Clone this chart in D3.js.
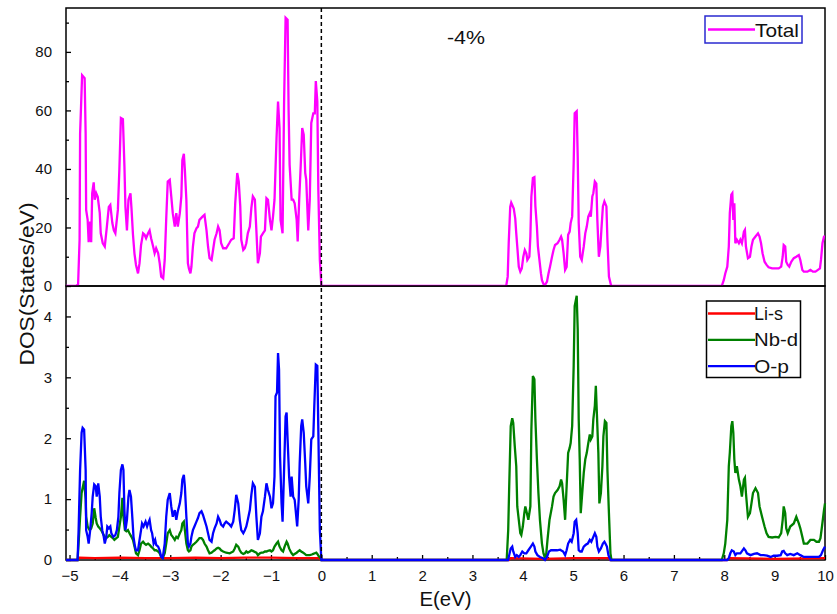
<!DOCTYPE html>
<html>
<head>
<meta charset="utf-8">
<script src="https://cdn.jsdelivr.net/npm/d3@7"></script>
<style>
  html, body { margin: 0; padding: 0; background: #fff; }
  svg { display: block; font-family: Arial, "Liberation Sans", sans-serif; }
</style>
</head>
<body>
<svg id="chart" width="837" height="614"></svg>
<script>
// Projected densities of states, [energy (eV), DOS (states/eV)]
const totalDOS = [
  [-5.07,0],[-4.87,0],[-4.83,0.5],[-4.80,16],[-4.79,52],[-4.75,72],[-4.70,71],[-4.68,52],[-4.67,26],[-4.64,22.6],
  [-4.62,15],[-4.59,22],[-4.57,15],[-4.55,31.7],[-4.52,35.4],[-4.50,29.5],[-4.47,31.7],[-4.44,30.5],[-4.40,25],
  [-4.38,18],[-4.34,14.6],[-4.30,13.5],[-4.26,20],[-4.22,27],[-4.19,27.7],[-4.15,21.5],[-4.12,19],[-4.09,18],
  [-4.04,26],[-4.01,40],[-3.98,57.4],[-3.94,57],[-3.91,41],[-3.89,27],[-3.86,19],[-3.83,29.5],[-3.79,31.7],
  [-3.77,26.6],[-3.74,17.5],[-3.71,11],[-3.68,7.2],[-3.64,4.3],[-3.61,7.8],[-3.58,14],[-3.54,18],[-3.51,17.5],
  [-3.48,16.3],[-3.44,18],[-3.41,19],[-3.38,16.3],[-3.34,13.5],[-3.31,11.2],[-3.28,12.9],[-3.24,11.2],[-3.21,7.8],
  [-3.18,3.2],[-3.14,2.6],[-3.11,8.9],[-3.08,23],[-3.05,35.7],[-3.01,36.3],[-2.98,30.6],[-2.95,24.9],[-2.91,20.3],
  [-2.88,24.9],[-2.85,20.3],[-2.81,24.9],[-2.78,30.6],[-2.76,43],[-2.73,45.2],[-2.71,39.7],[-2.68,29.5],[-2.65,7.8],
  [-2.63,6],[-2.60,4.3],[-2.58,6.5],[-2.55,13.5],[-2.52,18],[-2.48,19.7],[-2.45,20.3],[-2.42,22.6],[-2.36,23.7],
  [-2.32,24.3],[-2.28,19],[-2.25,13.5],[-2.22,9.5],[-2.18,8.9],[-2.15,12.3],[-2.12,15.8],[-2.08,18],[-2.05,20.3],
  [-2.02,19],[-1.99,14.6],[-1.95,12.9],[-1.89,12.9],[-1.83,14.6],[-1.79,15.8],[-1.74,16.3],[-1.71,28.3],[-1.67,38.6],
  [-1.64,35.7],[-1.61,27.2],[-1.59,15.8],[-1.55,12.3],[-1.52,12.9],[-1.49,14.6],[-1.46,18],[-1.42,20.3],[-1.39,26.6],
  [-1.36,30.6],[-1.32,29.5],[-1.29,19],[-1.26,7.8],[-1.22,11.2],[-1.20,16.9],[-1.16,18],[-1.12,19],[-1.09,30],
  [-1.06,29.5],[-1.02,22.6],[-0.99,19],[-0.96,23.7],[-0.93,29.5],[-0.89,50.6],[-0.86,63],[-0.83,54],[-0.81,22.6],
  [-0.77,18],[-0.74,62.6],[-0.71,91.7],[-0.67,91],[-0.65,60],[-0.63,41.4],[-0.59,29.5],[-0.56,29.5],[-0.53,28.3],
  [-0.49,22.6],[-0.47,15.2],[-0.44,29.5],[-0.41,41],[-0.38,54],[-0.35,51.7],[-0.32,38.6],[-0.30,36.3],[-0.26,19],
  [-0.23,29.5],[-0.20,55.7],[-0.16,59],[-0.13,59],[-0.11,70],[-0.08,63],[-0.06,32.9],[-0.03,8.9],[0.00,0.3],[0.01,0],
  [3.67,0],[3.70,3.2],[3.72,14.6],[3.75,27],[3.77,28.5],[3.79,27.7],[3.82,26.5],[3.85,23],[3.87,18],[3.89,13.5],
  [3.92,6.6],[3.95,4.9],[3.98,6],[4.01,10],[4.04,12.3],[4.07,11.2],[4.09,8.9],[4.13,10],[4.15,16.9],[4.17,30.6],
  [4.20,36.9],[4.23,37.2],[4.25,27.2],[4.28,20.3],[4.30,13.5],[4.33,8.9],[4.36,4.3],[4.38,2],[4.41,0.7],[4.44,0.3],
  [4.48,1.5],[4.51,4.3],[4.54,6.6],[4.58,10],[4.61,12.3],[4.64,14],[4.69,14.6],[4.73,15.8],[4.76,16.9],[4.78,15.8],
  [4.81,11.2],[4.84,5.5],[4.87,6.5],[4.90,17.5],[4.93,18.6],[4.95,21.5],[4.98,23.7],[5.01,42],[5.03,59],[5.07,59.7],
  [5.09,44.3],[5.11,21.5],[5.14,10],[5.17,8.9],[5.21,13.5],[5.24,18],[5.27,20.3],[5.30,23.7],[5.33,24.9],[5.35,23.7],
  [5.38,30.6],[5.40,31.7],[5.43,35.7],[5.46,35],[5.48,22.6],[5.51,10],[5.54,13.5],[5.56,19.2],[5.59,27.2],[5.62,28.9],
  [5.66,27.2],[5.68,15.8],[5.71,3.2],[5.75,0.3],[5.77,0],
  [7.95,0],[7.99,2],[8.02,4.3],[8.06,6.6],[8.09,13.5],[8.11,24.9],[8.14,31.2],[8.16,31.7],[8.18,22.6],[8.20,28.3],
  [8.22,14.6],[8.25,15.8],[8.29,14.6],[8.32,15.8],[8.35,14.6],[8.39,18.6],[8.41,19.2],[8.43,13.5],[8.47,9.5],[8.51,10],
  [8.54,13.5],[8.57,15.8],[8.62,16.9],[8.67,18],[8.70,16.9],[8.73,14.6],[8.76,11.2],[8.80,8.3],[8.84,7.2],[8.88,6.4],
  [8.95,6],[9.02,6],[9.08,6],[9.13,6.6],[9.16,10],[9.18,14],[9.21,13.5],[9.23,8.3],[9.26,7.2],[9.29,6.6],[9.33,8.3],
  [9.38,9.5],[9.43,10],[9.48,10.6],[9.51,8.9],[9.55,5.5],[9.58,4.9],[9.65,4.9],[9.71,5.5],[9.76,4.9],[9.81,4.9],
  [9.86,5.5],[9.90,6],[9.92,8.9],[9.95,14.6],[9.98,16.9],[10.0,17]
];

const liS = [
  [-5.07,0],[-4.84,0],[-4.80,0.04],[-4.50,0.03],[-4.00,0.04],[-3.50,0.03],[-3.00,0.03],[-2.50,0.04],[-2.00,0.03],
  [-1.50,0.04],[-1.00,0.04],[-0.50,0.03],[-0.05,0.03],[0.00,0],
  [3.72,0],[3.76,0.03],[4.40,0.02],[5.00,0.03],[5.70,0.03],[5.74,0],
  [8.05,0],[8.10,0.03],[9.00,0.02],[10.0,0.03]
];

const nbD = [
  [-5.07,0],[-4.84,0],[-4.82,0.27],[-4.79,0.71],[-4.76,1.1],[-4.71,1.3],[-4.68,1.0],[-4.67,0.71],[-4.64,0.55],
  [-4.60,0.49],[-4.57,0.52],[-4.54,0.6],[-4.51,0.85],[-4.48,0.69],[-4.46,0.6],[-4.43,0.55],[-4.40,0.52],[-4.37,0.49],
  [-4.34,0.44],[-4.30,0.38],[-4.27,0.36],[-4.24,0.38],[-4.21,0.41],[-4.17,0.38],[-4.14,0.36],[-4.11,0.33],[-4.07,0.36],
  [-4.04,0.38],[-4.01,0.55],[-3.98,0.71],[-3.95,1.02],[-3.93,0.71],[-3.90,0.49],[-3.87,0.47],[-3.84,0.49],[-3.81,0.44],
  [-3.77,0.38],[-3.74,0.33],[-3.71,0.22],[-3.68,0.11],[-3.64,0.08],[-3.61,0.16],[-3.58,0.27],[-3.54,0.3],[-3.51,0.27],
  [-3.48,0.25],[-3.44,0.27],[-3.41,0.25],[-3.38,0.22],[-3.34,0.19],[-3.31,0.16],[-3.28,0.16],[-3.24,0.14],[-3.21,0.11],
  [-3.18,0.05],[-3.15,0.03],[-3.11,0.11],[-3.08,0.27],[-3.05,0.44],[-3.01,0.49],[-2.98,0.41],[-2.95,0.38],[-2.91,0.33],
  [-2.88,0.38],[-2.85,0.36],[-2.81,0.44],[-2.78,0.49],[-2.76,0.6],[-2.73,0.63],[-2.71,0.49],[-2.68,0.27],[-2.65,0.16],
  [-2.63,0.14],[-2.60,0.16],[-2.58,0.22],[-2.55,0.25],[-2.52,0.27],[-2.48,0.3],[-2.45,0.33],[-2.42,0.36],[-2.38,0.36],
  [-2.35,0.33],[-2.32,0.27],[-2.28,0.22],[-2.25,0.16],[-2.22,0.11],[-2.18,0.12],[-2.15,0.14],[-2.12,0.16],[-2.08,0.19],
  [-2.05,0.2],[-2.02,0.19],[-1.99,0.16],[-1.95,0.14],[-1.89,0.12],[-1.82,0.11],[-1.75,0.14],[-1.72,0.19],[-1.69,0.25],
  [-1.65,0.22],[-1.62,0.16],[-1.59,0.12],[-1.55,0.1],[-1.52,0.11],[-1.49,0.14],[-1.46,0.12],[-1.42,0.14],[-1.39,0.16],
  [-1.36,0.15],[-1.29,0.12],[-1.26,0.08],[-1.22,0.11],[-1.19,0.12],[-1.16,0.12],[-1.12,0.14],[-1.09,0.14],[-1.06,0.15],
  [-1.02,0.16],[-0.99,0.14],[-0.96,0.16],[-0.93,0.22],[-0.89,0.27],[-0.86,0.3],[-0.83,0.22],[-0.79,0.16],[-0.76,0.14],
  [-0.73,0.22],[-0.69,0.3],[-0.67,0.27],[-0.64,0.19],[-0.61,0.14],[-0.59,0.11],[-0.56,0.08],[-0.53,0.1],[-0.49,0.12],
  [-0.46,0.14],[-0.43,0.16],[-0.40,0.14],[-0.36,0.12],[-0.33,0.1],[-0.30,0.08],[-0.26,0.08],[-0.23,0.08],[-0.19,0.09],
  [-0.16,0.1],[-0.13,0.11],[-0.10,0.12],[-0.08,0.1],[-0.05,0.06],[-0.03,0.05],[0.00,0],
  [3.68,0],[3.71,0.49],[3.73,1.21],[3.76,2.2],[3.79,2.33],[3.81,2.25],[3.84,1.87],[3.87,1.54],[3.89,0.88],[3.92,0.66],
  [3.95,0.44],[3.97,0.41],[4.00,0.55],[4.03,0.77],[4.05,0.88],[4.08,0.77],[4.11,0.66],[4.15,0.88],[4.17,2.14],[4.20,3.02],
  [4.23,2.97],[4.25,2.31],[4.28,1.65],[4.31,1.1],[4.34,0.66],[4.38,0.27],[4.41,0.11],[4.44,0.03],[4.46,0.05],[4.49,0.33],
  [4.53,0.66],[4.58,0.88],[4.61,1.04],[4.64,1.1],[4.69,1.15],[4.73,1.21],[4.76,1.32],[4.78,1.26],[4.81,0.99],[4.84,0.66],
  [4.87,1.21],[4.90,1.76],[4.93,1.84],[4.95,1.92],[4.98,2.2],[5.01,3.19],[5.03,4.17],[5.07,4.34],[5.09,3.79],[5.11,2.31],
  [5.13,1.65],[5.15,0.77],[5.17,0.99],[5.21,1.43],[5.24,1.65],[5.27,1.76],[5.30,1.92],[5.33,2.06],[5.35,1.98],[5.38,2.03],
  [5.40,2.31],[5.43,2.53],[5.45,2.86],[5.47,2.42],[5.50,1.76],[5.52,0.93],[5.55,1.1],[5.58,1.54],[5.60,2.03],[5.63,2.28],
  [5.66,2.25],[5.68,1.48],[5.71,0.77],[5.74,0.11],[5.76,0],
  [7.95,0],[7.99,0.11],[8.02,0.27],[8.06,0.66],[8.09,1.54],[8.11,1.76],[8.14,2.2],[8.16,2.28],[8.18,2.09],[8.20,1.65],
  [8.22,1.43],[8.25,1.54],[8.29,1.32],[8.32,1.21],[8.35,1.04],[8.39,1.32],[8.41,1.35],[8.43,1.1],[8.47,0.71],[8.51,0.77],
  [8.54,0.93],[8.57,1.1],[8.62,1.18],[8.67,1.1],[8.70,0.88],[8.75,0.71],[8.80,0.55],[8.84,0.44],[8.88,0.38],[8.95,0.37],
  [9.02,0.38],[9.08,0.37],[9.13,0.44],[9.16,0.66],[9.18,0.88],[9.21,0.77],[9.23,0.52],[9.26,0.44],[9.31,0.55],[9.38,0.6],
  [9.43,0.71],[9.48,0.6],[9.51,0.52],[9.55,0.38],[9.58,0.27],[9.65,0.27],[9.71,0.33],[9.78,0.33],[9.83,0.3],[9.88,0.3],
  [9.91,0.36],[9.94,0.55],[9.98,0.82],[10.0,0.93]
];

const oP = [
  [-5.07,0],[-4.84,0],[-4.82,0.49],[-4.79,1.48],[-4.76,2.09],[-4.74,2.17],[-4.71,2.14],[-4.68,1.48],[-4.67,0.49],
  [-4.64,0.38],[-4.62,0.27],[-4.59,0.49],[-4.56,0.77],[-4.54,1.04],[-4.51,1.24],[-4.48,1.21],[-4.46,1.04],[-4.43,1.26],
  [-4.40,1.04],[-4.38,0.71],[-4.35,0.49],[-4.32,0.38],[-4.30,0.27],[-4.27,0.38],[-4.25,0.55],[-4.22,0.52],[-4.19,0.55],
  [-4.17,0.44],[-4.13,0.38],[-4.09,0.41],[-4.06,0.49],[-4.03,0.71],[-4.01,1.1],[-3.98,1.48],[-3.95,1.57],[-3.93,1.48],
  [-3.91,0.82],[-3.89,0.49],[-3.86,0.66],[-3.83,1.04],[-3.81,1.15],[-3.78,1.04],[-3.75,0.66],[-3.73,0.38],[-3.70,0.22],
  [-3.68,0.16],[-3.64,0.16],[-3.61,0.33],[-3.58,0.49],[-3.56,0.6],[-3.53,0.55],[-3.49,0.63],[-3.46,0.55],[-3.44,0.6],
  [-3.41,0.66],[-3.38,0.49],[-3.36,0.44],[-3.33,0.27],[-3.30,0.33],[-3.28,0.25],[-3.24,0.22],[-3.21,0.16],[-3.18,0.05],
  [-3.15,0.03],[-3.11,0.27],[-3.08,0.71],[-3.05,0.99],[-3.01,1.1],[-2.98,0.88],[-2.95,0.71],[-2.91,0.82],[-2.88,0.66],
  [-2.85,0.8],[-2.81,0.93],[-2.78,1.1],[-2.76,1.32],[-2.73,1.4],[-2.71,1.21],[-2.68,0.71],[-2.65,0.27],[-2.63,0.22],
  [-2.60,0.27],[-2.58,0.38],[-2.55,0.49],[-2.52,0.55],[-2.48,0.63],[-2.45,0.69],[-2.42,0.77],[-2.38,0.8],[-2.35,0.74],
  [-2.32,0.66],[-2.28,0.55],[-2.25,0.44],[-2.22,0.33],[-2.18,0.3],[-2.15,0.44],[-2.12,0.52],[-2.08,0.6],[-2.05,0.71],
  [-2.02,0.66],[-1.99,0.58],[-1.95,0.55],[-1.92,0.6],[-1.89,0.63],[-1.85,0.6],[-1.82,0.58],[-1.79,0.55],[-1.75,0.63],
  [-1.72,0.82],[-1.69,1.07],[-1.65,0.93],[-1.62,0.66],[-1.59,0.49],[-1.55,0.44],[-1.52,0.49],[-1.49,0.55],[-1.46,0.66],
  [-1.42,0.82],[-1.39,1.07],[-1.36,1.26],[-1.32,1.2],[-1.29,0.71],[-1.26,0.33],[-1.22,0.44],[-1.19,0.71],[-1.16,0.8],
  [-1.12,1.04],[-1.09,1.26],[-1.06,1.15],[-1.02,1.04],[-0.99,0.85],[-0.96,0.93],[-0.93,1.37],[-0.91,2.69],[-0.88,2.75],
  [-0.86,3.4],[-0.84,3.13],[-0.82,1.7],[-0.79,0.93],[-0.77,0.63],[-0.74,1.48],[-0.71,2.36],[-0.69,2.42],[-0.67,1.98],
  [-0.64,1.37],[-0.61,1.04],[-0.59,1.37],[-0.56,1.04],[-0.53,0.99],[-0.51,0.82],[-0.48,0.55],[-0.45,0.99],[-0.43,1.59],
  [-0.40,2.2],[-0.38,2.31],[-0.35,2.09],[-0.32,1.59],[-0.30,1.21],[-0.26,0.93],[-0.23,1.37],[-0.20,1.98],[-0.16,2.03],
  [-0.14,2.53],[-0.11,3.21],[-0.08,3.19],[-0.06,2.14],[-0.03,0.49],[0.00,0],
  [3.71,0],[3.73,0.08],[3.76,0.19],[3.79,0.22],[3.81,0.14],[3.85,0.05],[3.88,0.08],[3.92,0.05],[3.95,0.08],[3.99,0.14],
  [4.03,0.11],[4.07,0.11],[4.11,0.16],[4.16,0.22],[4.20,0.27],[4.23,0.22],[4.25,0.14],[4.29,0.08],[4.34,0.05],[4.40,0.03],
  [4.44,0],[4.48,0.05],[4.52,0.14],[4.56,0.16],[4.61,0.16],[4.68,0.16],[4.74,0.17],[4.80,0.14],[4.84,0.08],[4.87,0.16],
  [4.90,0.27],[4.94,0.33],[4.97,0.3],[5.01,0.44],[5.03,0.63],[5.06,0.66],[5.09,0.44],[5.11,0.16],[5.14,0.14],[5.17,0.14],
  [5.21,0.22],[5.25,0.25],[5.29,0.27],[5.33,0.33],[5.36,0.3],[5.40,0.38],[5.43,0.44],[5.46,0.38],[5.48,0.22],[5.51,0.14],
  [5.55,0.19],[5.59,0.27],[5.62,0.3],[5.64,0.27],[5.67,0.22],[5.70,0.08],[5.74,0],
  [8.06,0],[8.09,0.03],[8.12,0.11],[8.15,0.16],[8.19,0.14],[8.22,0.08],[8.25,0.11],[8.32,0.11],[8.39,0.19],[8.42,0.16],
  [8.45,0.11],[8.52,0.08],[8.59,0.1],[8.65,0.11],[8.72,0.08],[8.78,0.08],[8.85,0.07],[8.92,0.05],[8.98,0.07],[9.05,0.07],
  [9.12,0.08],[9.15,0.14],[9.18,0.15],[9.21,0.11],[9.25,0.08],[9.31,0.1],[9.38,0.08],[9.45,0.11],[9.51,0.08],[9.58,0.05],
  [9.68,0.05],[9.78,0.05],[9.88,0.05],[9.92,0.08],[9.96,0.16],[10.0,0.22]
];

// Axis ticks
const xMajor = [-5,-4,-3,-2,-1,0,1,2,3,4,5,6,7,8,9,10];
const xMinor = [-4.5,-3.5,-2.5,-1.5,-0.5,0.5,1.5,2.5,3.5,4.5,5.5,6.5,7.5,8.5,9.5];
const yTopMajor = [0,20,40,60,80];
const yTopMinor = [10,30,50,70,90];
const yBotMajor = [0,1,2,3,4];
const yBotMinor = [0.5,1.5,2.5,3.5];

// Series styling and legends
const topSeries = [{ name: "Total", data: totalDOS, color: "#ff00ff" }];
const botSeries = [
  { name: "Li-s", data: liS, color: "#ff0000", width: 29 },
  { name: "Nb-d", data: nbD, color: "#008000", width: 44 },
  { name: "O-p", data: oP, color: "#0000ff", width: 35 }
];
const strainLabel = "-4%";

const L = 66, R = 825, T = 8, M = 286, B = 560;
const svg = d3.select("#chart");

const x = d3.scaleLinear().domain([-5.07, 10]).range([L, R]);
const yTop = d3.scaleLinear().domain([0, 95]).range([M, T]);
const yBot = d3.scaleLinear().domain([0, 4.5]).range([B, M]);

const defs = svg.append("defs");
defs.append("clipPath").attr("id", "clipTop")
  .append("rect").attr("x", L).attr("y", T).attr("width", R - L).attr("height", M - T);

function styleAxis(g, fontSize) {
  g.select(".domain").remove();
  g.selectAll(".tick line").attr("stroke", "#000").attr("stroke-width", 1.3);
  g.selectAll(".tick text").attr("fill", "#111").attr("font-size", fontSize)
    .attr("font-family", "Arial, 'Liberation Sans', sans-serif");
}

// ---- top panel: total DOS ----
svg.append("rect").attr("x", L).attr("y", T).attr("width", R - L).attr("height", M - T)
  .attr("fill", "none").attr("stroke", "#000").attr("stroke-width", 1.5);

svg.append("g").attr("transform", `translate(${L},0)`)
  .call(d3.axisLeft(yTop).tickValues(yTopMajor).tickSize(-5).tickPadding(14).tickFormat(d3.format("d")))
  .call(g => styleAxis(g, 15));
svg.append("g").attr("transform", `translate(${L},0)`)
  .call(d3.axisLeft(yTop).tickValues(yTopMinor).tickSize(-3).tickFormat(""))
  .call(g => styleAxis(g, 15));

const lineTop = d3.line().x(d => x(d[0])).y(d => yTop(d[1]));
svg.append("g").attr("clip-path", "url(#clipTop)")
  .selectAll("path").data(topSeries).join("path")
  .attr("d", d => lineTop(d.data))
  .attr("fill", "none").attr("stroke", d => d.color)
  .attr("stroke-width", 2.3).attr("stroke-linejoin", "miter");

// ---- bottom panel: projected DOS ----
svg.append("rect").attr("x", L).attr("y", M).attr("width", R - L).attr("height", B - M)
  .attr("fill", "none").attr("stroke", "#000").attr("stroke-width", 1.5);

svg.append("g").attr("transform", `translate(${L},0)`)
  .call(d3.axisLeft(yBot).tickValues(yBotMajor).tickSize(-5).tickPadding(14).tickFormat(d3.format("d")))
  .call(g => styleAxis(g, 15));
svg.append("g").attr("transform", `translate(${L},0)`)
  .call(d3.axisLeft(yBot).tickValues(yBotMinor).tickSize(-3).tickFormat(""))
  .call(g => styleAxis(g, 15));

svg.append("g").attr("transform", `translate(0,${B})`)
  .call(d3.axisBottom(x).tickValues(xMajor).tickSize(-5).tickPadding(10).tickFormat(d3.format("d")))
  .call(g => styleAxis(g, 15));
svg.append("g").attr("transform", `translate(0,${B})`)
  .call(d3.axisBottom(x).tickValues(xMinor).tickSize(-3).tickFormat(""))
  .call(g => styleAxis(g, 15));

const lineBot = d3.line().x(d => x(d[0])).y(d => yBot(d[1]));
svg.append("g").selectAll("path").data(botSeries).join("path")
  .attr("d", d => lineBot(d.data))
  .attr("fill", "none").attr("stroke", d => d.color)
  .attr("stroke-width", 2.3).attr("stroke-linejoin", "miter");

// Fermi level
svg.append("line")
  .attr("x1", x(0)).attr("x2", x(0)).attr("y1", T).attr("y2", B)
  .attr("stroke", "#000").attr("stroke-width", 1.5).attr("stroke-dasharray", "4,3");

// Axis titles
svg.append("text").attr("x", (L + R) / 2).attr("y", 606)
  .attr("text-anchor", "middle").attr("font-size", 20).attr("fill", "#111")
  .attr("textLength", 52).attr("lengthAdjust", "spacingAndGlyphs")
  .text("E(eV)");
svg.append("text")
  .attr("transform", `translate(34,${(T + B) / 2}) rotate(-90)`)
  .attr("text-anchor", "middle").attr("font-size", 20).attr("fill", "#111")
  .attr("textLength", 163).attr("lengthAdjust", "spacingAndGlyphs")
  .text("DOS(States/eV)");

// Strain annotation
svg.append("text").attr("x", 466).attr("y", 44)
  .attr("text-anchor", "middle").attr("font-size", 18).attr("fill", "#111")
  .attr("textLength", 38).attr("lengthAdjust", "spacingAndGlyphs")
  .text(strainLabel);

// Legend: total
const lgTop = svg.append("g");
lgTop.append("rect").attr("x", 705).attr("y", 16).attr("width", 97).attr("height", 27)
  .attr("fill", "#fff").attr("stroke", "#2a2ad0").attr("stroke-width", 1.5);
topSeries.forEach((s, i) => {
  lgTop.append("line").attr("x1", 708).attr("x2", 755).attr("y1", 29.5).attr("y2", 29.5)
    .attr("stroke", s.color).attr("stroke-width", 2.3);
  lgTop.append("text").attr("x", 755).attr("y", 36.5).attr("font-size", 19).attr("fill", "#111")
    .attr("textLength", 44).attr("lengthAdjust", "spacingAndGlyphs").text(s.name);
});

// Legend: projected
const lgBot = svg.append("g");
lgBot.append("rect").attr("x", 706.5).attr("y", 301).attr("width", 94).attr("height", 76.5)
  .attr("fill", "#fff").attr("stroke", "#000").attr("stroke-width", 1.5);
botSeries.forEach((s, i) => {
  const yy = 313.5 + i * 26.3;
  lgBot.append("line").attr("x1", 708).attr("x2", 755).attr("y1", yy).attr("y2", yy)
    .attr("stroke", s.color).attr("stroke-width", 2.3);
  lgBot.append("text").attr("x", 754).attr("y", yy + 6.5).attr("font-size", 18).attr("fill", "#111")
    .attr("textLength", s.width).attr("lengthAdjust", "spacingAndGlyphs").text(s.name);
});
</script>
</body>
</html>
